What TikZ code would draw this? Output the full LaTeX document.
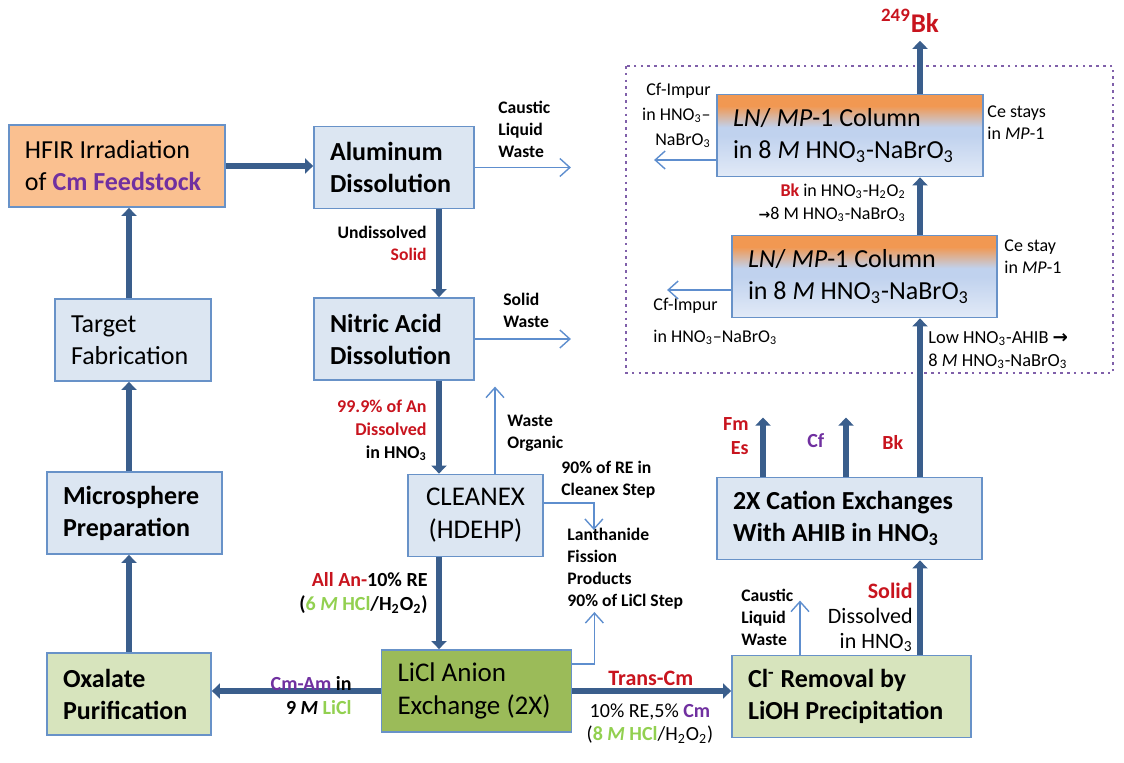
\documentclass[tikz,border=0pt]{standalone}
\usepackage{fontspec}
\setmainfont{Carlito}
\newfontfamily\arrowfont{DejaVu Sans}
\usetikzlibrary{arrows.meta}

\definecolor{boxline}{RGB}{104,146,200}
\definecolor{boxfill}{RGB}{220,230,242}
\definecolor{hfirfill}{RGB}{250,192,144}
\definecolor{lgreen}{RGB}{155,187,89}
\definecolor{pgreen}{RGB}{215,228,189}
\definecolor{flowblue}{RGB}{58,94,140}
\definecolor{wasteblue}{RGB}{94,142,206}
\definecolor{redtxt}{RGB}{200,20,30}
\definecolor{purptxt}{RGB}{112,48,160}
\definecolor{greentxt}{RGB}{146,208,80}
\definecolor{dotpurple}{RGB}{128,96,170}
\definecolor{colorange}{RGB}{241,152,82}
\definecolor{colmid}{RGB}{192,210,238}
\definecolor{colbot}{RGB}{226,234,247}

\pgfdeclareverticalshading{colshade}{100bp}{color(0bp)=(colbot); color(25bp)=(colbot);
  color(50bp)=(colmid); color(55bp)=(colmid); color(68bp)=(colorange); color(100bp)=(colorange)}

\newcommand\sub[1]{\textsubscript{#1}}
\newcommand\rd[1]{\textcolor{redtxt}{#1}}
\newcommand\pp[1]{\textcolor{purptxt}{#1}}
\newcommand\gr[1]{\textcolor{greentxt}{#1}}

\tikzset{
  proc/.style={draw=boxline, line width=0.9pt, fill=boxfill, inner xsep=8pt, inner ysep=0pt,
    minimum height=41pt, align=flush left, font=\fontsize{13}{16}\selectfont},
  column/.style={proc, shading=colshade},
  bigarrow/.style={draw=flowblue, line width=3pt, -{Triangle[length=4pt,width=7.5pt]}},
  thinarrow/.style={draw=wasteblue, line width=0.7pt, -{Straight Barb[length=5pt,width=9pt]}},
  lab/.style={inner sep=0pt, font=\fontsize{8.8}{11}\selectfont\bfseries},
  labr/.style={inner sep=0pt, font=\fontsize{9.2}{11.5}\selectfont},
  labm/.style={inner sep=0pt, font=\fontsize{10}{11.8}\selectfont\bfseries},
  dotbox/.style={draw=dotpurple, line width=1.3pt, dash pattern=on 1.3pt off 2.1pt}
}

\begin{document}
\begin{tikzpicture}[x=0.5pt,y=-0.5pt]
\useasboundingbox (0,0) rectangle (1124,763);

\coordinate (lspine) at (129,0);
\coordinate (mspine) at (439,0);
\coordinate (rspine) at (920,0);

\draw[dotbox] (626,66) rectangle (1113,373);

\node[proc, fill=hfirfill, text width=92pt] (hfir) at (117,166) {HFIR Irradiation\\of \textbf{\pp{Cm Feedstock}}};
\node[proc, text width=64pt, font=\fontsize{13}{16}\selectfont\bfseries] (alum) at (394,167.5) {Aluminum\\Dissolution};
\node[proc, text width=64pt, font=\fontsize{13}{16}\selectfont\bfseries] (nitric) at (394,339) {Nitric Acid\\Dissolution};
\node[proc, text width=62pt] (target) at (133,340) {Target\\Fabrication};
\node[proc, text width=71.5pt, font=\fontsize{13}{16}\selectfont\bfseries] (micro) at (134.5,513) {Microsphere\\Preparation};
\node[proc, fill=pgreen, text width=66pt, font=\fontsize{13}{16}\selectfont\bfseries] (oxal) at (129,694) {Oxalate\\Purification};
\node[proc, text width=51.5pt, align=flush center, font=\fontsize{13.5}{16.5}\selectfont] (cleanex) at (475.5,515.5) {CLEANEX\\(HDEHP)};
\node[proc, fill=lgreen, text width=79pt, font=\fontsize{13.5}{16.5}\selectfont] (licl) at (476.5,691) {LiCl Anion\\Exchange (2X)};
\node[proc, fill=pgreen, text width=103.5pt, font=\fontsize{13}{16}\selectfont\bfseries] (clrem) at (851.5,696.5) {Cl\textsuperscript{-} Removal by\\LiOH Precipitation};
\node[proc, text width=116.5pt, font=\fontsize{13}{16}\selectfont\bfseries] (cation) at (849.5,518.5) {2X Cation Exchanges\\With AHIB in HNO\sub{3}};
\node[column, text width=116.5pt] (col2) at (864.5,276.5) {\textit{LN}/ \textit{MP}-1 Column\\in 8 \textit{M} HNO\sub{3}-NaBrO\sub{3}};
\node[column, text width=117pt] (col1) at (850,135.5) {\textit{LN}/ \textit{MP}-1 Column\\in 8 \textit{M} HNO\sub{3}-NaBrO\sub{3}};
\node[inner sep=1pt, font=\fontsize{13.5}{15}\selectfont\bfseries, text=redtxt] (bk249) at (910,21) {\textsuperscript{249}Bk};

\draw[bigarrow] (hfir.east) -- (hfir.east -| alum.west);
\draw[bigarrow] (mspine |- alum.south) -- (mspine |- nitric.north);
\draw[bigarrow] (mspine |- nitric.south) -- (mspine |- cleanex.north);
\draw[bigarrow] (mspine |- cleanex.south) -- (mspine |- licl.north);
\draw[bigarrow] (licl.west) -- (licl.west -| oxal.east);
\draw[bigarrow] (licl.east) -- (licl.east -| clrem.west);
\draw[bigarrow] (lspine |- oxal.north) -- (lspine |- micro.south);
\draw[bigarrow] (lspine |- micro.north) -- (lspine |- target.south);
\draw[bigarrow] (lspine |- target.north) -- (lspine |- hfir.south);
\draw[bigarrow] (rspine |- clrem.north) -- (rspine |- cation.south);
\draw[bigarrow] (rspine |- cation.north) -- (rspine |- col2.south);
\draw[bigarrow] (rspine |- col2.north) -- (rspine |- col1.south);
\draw[bigarrow] (rspine |- col1.north) -- ([yshift=-3pt]rspine |- bk249.south);
\draw[bigarrow] ([xshift=-43.25pt]cation.north) -- ++(0,-59);
\draw[bigarrow] ([xshift=-1.75pt]cation.north) -- ++(0,-59);

\draw[thinarrow] (alum.east) -- ++(96,0);
\draw[thinarrow] (nitric.east) -- ++(96,0);
\draw[thinarrow] ([xshift=9.75pt]cleanex.north) -- ++(0,-87);
\draw[thinarrow] ([yshift=6.25pt]cleanex.east) -| ++(50,27);
\draw[thinarrow] ([yshift=13.5pt]licl.east) -| ++(22,-52);
\draw[thinarrow] ([xshift=-25.75pt]clrem.north) -- ++(0,-54);
\draw[thinarrow] ([yshift=-12.25pt]col1.west) -- ++(-62,0);
\draw[thinarrow] ([yshift=-6.75pt]col2.west) -- ++(-64,0);

\node[lab, anchor=north west, align=flush left] (caustA) at (498,101) {Caustic\\Liquid\\Waste};
\node[lab, anchor=north east, align=flush right] (undiss) at (427,226) {Undissolved\\\rd{Solid}};
\node[lab, anchor=north west, align=flush left] (solidw) at (503,293) {Solid\\Waste};
\node[lab, anchor=north east, align=flush right, font=\fontsize{9}{11.5}\selectfont\bfseries] (dissolved) at (427,400) {\rd{99.9\% of An}\\\rd{Dissolved}\\in HNO\sub{3}};
\node[lab, anchor=north west, align=flush left] (worg) at (507,415) {Waste\\Organic};
\node[lab, anchor=north west, align=flush left] (reclean) at (561,461) {90\% of RE in\\Cleanex Step};
\node[lab, anchor=north west, align=flush left] (lanth) at (567,528) {Lanthanide\\Fission\\Products\\90\% of LiCl Step};
\node[labm, anchor=north east, align=flush right] (allan) at (428,572) {\rd{All An-}10\% RE\\(\gr{6 \textit{M} HCl}/H\sub{2}O\sub{2})};
\node[labm, anchor=north east, align=flush right] (cmam) at (352,676) {\pp{Cm-Am} in\\9 \textit{M} \gr{LiCl}};
\node[labm, anchor=north west, font=\fontsize{11}{13}\selectfont\bfseries, text=redtxt] (transcm) at (608,671) {Trans-Cm};
\node[labm, anchor=north, align=flush center, font=\fontsize{10}{11.8}\selectfont] (recm) at (650,703) {10\% RE,5\% \textbf{\pp{Cm}}\\(\textbf{\gr{8 \textit{M} HCl}}/H\sub{2}O\sub{2})};
\node[lab, anchor=north west, align=flush left] (caustB) at (741,589) {Caustic\\Liquid\\Waste};
\node[labr, anchor=north east, align=flush right, font=\fontsize{11}{12.3}\selectfont] (solidB) at (913,583) {\textbf{\rd{Solid}}\\Dissolved\\in HNO\sub{3}};
\node[labm, anchor=north east, align=flush right, text=redtxt, font=\fontsize{10}{12}\selectfont\bfseries] (fmes) at (749,417) {Fm\\Es};
\node[labm, anchor=north west, text=purptxt] (cf) at (807,433) {Cf};
\node[labm, anchor=north west, text=redtxt] (bk) at (882,435) {Bk};
\node[labr, anchor=north west, align=flush left] (lowhno) at (928,331) {Low HNO\sub{3}-AHIB {\arrowfont\bfseries →}\\8 \textit{M} HNO\sub{3}-NaBrO\sub{3}};
\node[labr, anchor=north west, align=flush left, font=\fontsize{9}{16}\selectfont] (cfimpB) at (653,298) {Cf-Impur\\in HNO\sub{3}--NaBrO\sub{3}};
\node[labr, anchor=north west, align=flush left, font=\fontsize{9}{11}\selectfont] (cestayB) at (1004,239) {Ce stay\\in \textit{MP}-1};
\node[labr, anchor=north east, align=flush right, font=\fontsize{9}{11.5}\selectfont] (bkin) at (906,183) {\textbf{\rd{Bk}} in HNO\sub{3}-H\sub{2}O\sub{2}\\{\arrowfont\bfseries\fontsize{7}{8}\selectfont →}8 M HNO\sub{3}-NaBrO\sub{3}};
\node[labr, anchor=north east, align=flush right, font=\fontsize{9}{12.5}\selectfont] (cfimpA) at (711,83) {Cf-Impur\\in HNO\sub{3}--\\NaBrO\sub{3}};
\node[labr, anchor=north west, align=flush left, font=\fontsize{9}{11}\selectfont] (cestayA) at (987,105) {Ce stays\\in \textit{MP}-1};
\end{tikzpicture}
\end{document}
